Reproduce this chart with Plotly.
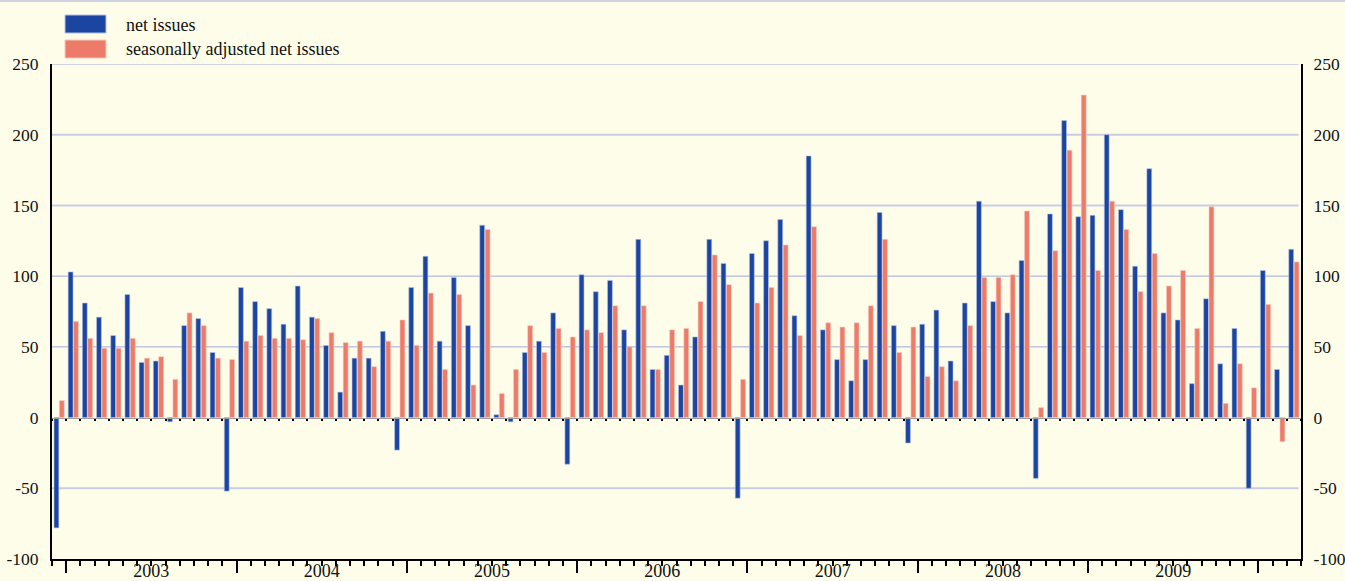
import plotly.graph_objects as go
import pandas as pd

# ---- data -------------------------------------------------------------
months = [p.strftime('%Y-%m') for p in pd.period_range('2002-12', '2010-03', freq='M')]

net_issues = [
    -78, 103, 81, 71, 58, 87, 39, 40, -3, 65, 70, 46, -52,      # Dec02 .. Dec03
    92, 82, 77, 66, 93, 71, 51, 18, 42, 42, 61, -23,            # 2004
    92, 114, 54, 99, 65, 136, 2, -3, 46, 54, 74, -33,           # 2005
    101, 89, 97, 62, 126, 34, 44, 23, 57, 126, 109, -57,        # 2006
    116, 125, 140, 72, 185, 62, 41, 26, 41, 145, 65, -18,       # 2007
    66, 76, 40, 81, 153, 82, 74, 111, -43, 144, 210, 142,       # 2008
    143, 200, 147, 107, 176, 74, 69, 24, 84, 38, 63, -50,       # 2009
    104, 34, 119,                                               # 2010
]

sa_net_issues = [
    12, 68, 56, 49, 49, 56, 42, 43, 27, 74, 65, 42, 41,
    54, 58, 56, 56, 55, 70, 60, 53, 54, 36, 54, 69,
    51, 88, 34, 87, 23, 133, 17, 34, 65, 46, 63, 57,
    62, 60, 79, 50, 79, 34, 62, 63, 82, 115, 94, 27,
    81, 92, 122, 58, 135, 67, 64, 67, 79, 126, 46, 64,
    29, 36, 26, 65, 99, 99, 101, 146, 7, 118, 189, 228,
    104, 153, 133, 89, 116, 93, 104, 63, 149, 10, 38, 21,
    80, -17, 110,
]

year_labels = ['2003', '2004', '2005', '2006', '2007', '2008', '2009']
y_ticks = [-100, -50, 0, 50, 100, 150, 200, 250]
y_tick_text = [str(v) for v in y_ticks]
# gridlines that render softer/wider in the original
soft_grid = [-50, 150, 200]
series_names = ['net issues', 'seasonally adjusted net issues']

# ---- derived positions -------------------------------------------------
x = list(range(len(months)))
bounds = [i - 0.5 for i in range(len(months) + 1)]
year_starts = [i - 0.5 for i, m in enumerate(months) if m.endswith('-01')]
year_centers = [months.index(y + '-01') + 5.5 for y in year_labels]
major_vals = [b for b in bounds if b not in year_starts]
major_text = [year_labels[year_centers.index(b)] if b in year_centers else '' for b in major_vals]
xr = [-0.5, len(months) - 0.5]
yr = [y_ticks[0], y_ticks[-1]]

BLUE = '#1B45A1'
PINK = '#EC7B69'
BG = '#FEFDEA'
GRID = '#9FA9DD'
GRID_SOFT = '#C9CDE3'
FONT = dict(family='Liberation Serif', size=18, color='#111111')
TICKFONT = dict(family='Liberation Serif', size=17.5, color='#111111')

fig = go.Figure()
fig.add_trace(go.Bar(x=x, y=net_issues, name=series_names[0],
                     marker=dict(color=BLUE, line=dict(color='#B4C2E8', width=0.6))))
fig.add_trace(go.Bar(x=x, y=sa_net_issues, name=series_names[1],
                     marker=dict(color=PINK, line=dict(color='#F9C9BE', width=0.6))))
# empty traces only to register the mirrored right axis and the zero-line axis
fig.add_trace(go.Scatter(x=[], y=[], xaxis='x', yaxis='y2', showlegend=False, hoverinfo='skip'))
fig.add_trace(go.Scatter(x=[], y=[], xaxis='x2', yaxis='y', showlegend=False, hoverinfo='skip'))

fig.update_layout(
    width=1345, height=581,
    paper_bgcolor=BG, plot_bgcolor=BG,
    margin=dict(l=52, r=44, t=64, b=22, pad=0),
    barmode='group', bargap=0.24, bargroupgap=0.1,
    showlegend=False,
    font=FONT,
    xaxis=dict(
        range=xr, tickmode='array', tickvals=major_vals, ticktext=major_text,
        ticks='outside', ticklen=5, tickwidth=1.5, tickcolor='black',
        showline=True, linecolor='black', linewidth=2,
        showgrid=False, zeroline=False, automargin=False,
        ticklabelstandoff=-11, tickfont=FONT,
        minor=dict(tickmode='array', tickvals=year_starts, ticks='outside',
                   ticklen=12, tickwidth=1.5, tickcolor='black', showgrid=False),
    ),
    xaxis2=dict(
        overlaying='x', anchor='free', position=(0 - yr[0]) / (yr[1] - yr[0]),
        range=xr, tickmode='array', tickvals=bounds,
        ticks='outside', ticklen=2, tickwidth=2, tickcolor='black',
        showline=True, linecolor='#9C9C9C', linewidth=1,
        showticklabels=False, showgrid=False, zeroline=False, automargin=False,
    ),
    yaxis=dict(
        range=yr, tickmode='array', tickvals=y_ticks, ticktext=y_tick_text,
        showgrid=False, zeroline=False,
        showline=True, linecolor='black', linewidth=2,
        ticks='', ticklabelstandoff=8, automargin=False, tickfont=TICKFONT,
    ),
    yaxis2=dict(
        overlaying='y', side='right', anchor='x',
        range=yr, tickmode='array', tickvals=y_ticks, ticktext=y_tick_text,
        showgrid=False, zeroline=False,
        showline=True, linecolor='black', linewidth=2,
        ticks='', ticklabelstandoff=7, automargin=False, tickfont=TICKFONT,
    ),
)

# ---- horizontal gridlines (zero and bottom handled by axes) ------------
for v in y_ticks:
    if v in (0, yr[0]):
        continue
    soft = v in soft_grid
    fig.add_shape(type='line', xref='paper', yref='y', x0=0, x1=0.998, y0=v, y1=v,
                  layer='below',
                  line=dict(color=GRID_SOFT if soft else GRID, width=2 if soft else 1))

# ---- legend drawn as swatches + text ----------------------------------
W, H, L, T = 1249, 495, 52, 64
def px(xp):
    return (xp - L) / W
def py(yp):
    return 1 + (T - yp) / H

for i, (name, col, edge) in enumerate([(series_names[0], BLUE, '#B4C2E8'),
                                        (series_names[1], PINK, '#F9C9BE')]):
    top = 15 + 25 * i
    fig.add_shape(type='rect', xref='paper', yref='paper',
                  x0=px(65), x1=px(106), y0=py(top + 18), y1=py(top),
                  fillcolor=col, line=dict(color=edge, width=1))
    fig.add_annotation(xref='paper', yref='paper', x=px(124), y=py(top + 9.5),
                       text=name, showarrow=False, xanchor='left', yanchor='middle',
                       font=FONT)

# thin top border line
fig.add_shape(type='line', xref='paper', yref='paper',
              x0=px(0), x1=px(1345), y0=py(1), y1=py(1),
              line=dict(color=GRID, width=1))

fig.write_html("out.html", config={'displayModeBar': False},
               post_script="document.body.style.margin='0';")
